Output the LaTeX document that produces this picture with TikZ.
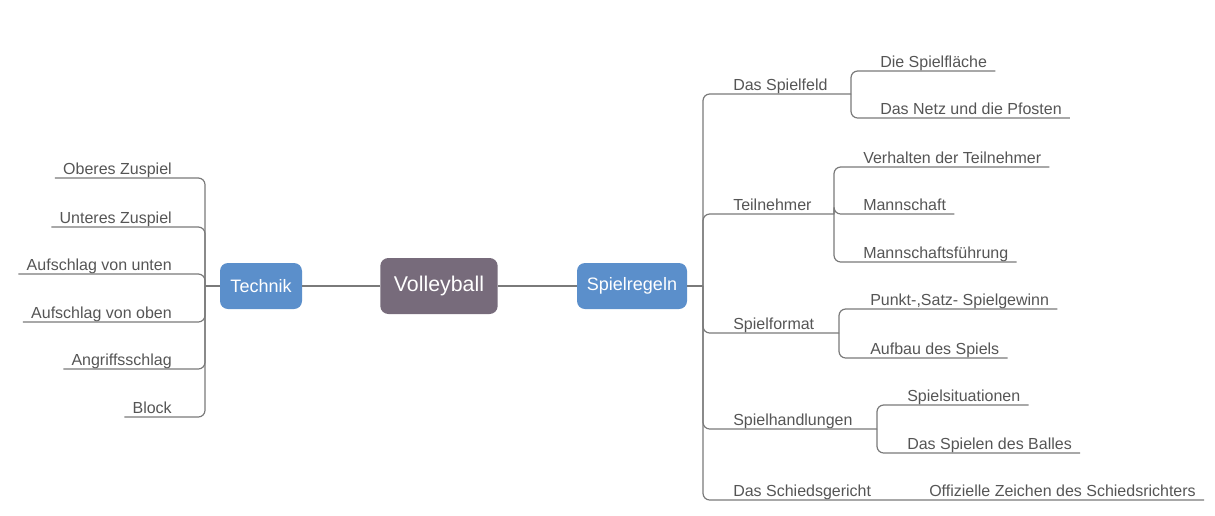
\documentclass[tikz,border=0pt]{standalone}
\usepackage{fontspec}
\setmainfont{Liberation Sans}
\definecolor{topic}{HTML}{776B7B}
\definecolor{branch}{HTML}{5B8FCB}
\definecolor{linegrey}{HTML}{7A7A7A}
\definecolor{textgrey}{HTML}{555555}
\tikzset{
    every node/.style={align=center,},
    central/.style={rectangle,rounded corners=6pt,fill=topic,text=white,font=\fontsize{16}{19}\selectfont,minimum width=88pt,minimum height=42pt,},
    maintopic/.style={rectangle,rounded corners=6pt,fill=branch,text=white,font=\fontsize{13.5}{16}\selectfont,minimum height=34.5pt,},
    subtopic/.style={inner xsep=6pt,inner ysep=2.5pt,text depth=0pt,text=textgrey,font=\fontsize{12}{14}\selectfont,},
    link/.style={draw=linegrey,line width=0.9pt,rounded corners=5pt,},
}

\begin{document}
\begin{tikzpicture}[x=0.75pt,y=-0.75pt]
                \useasboundingbox (0,0) rectangle (1215,515);

                \node[central] (volley) at (439,286) {Volleyball};
                \node[maintopic,minimum width=61.5pt] (technik) at (261,286) {Technik};
                \node[maintopic,minimum width=82.5pt] (regeln) at (632,286) {Spielregeln};

                \coordinate (tFork) at (205,286);
                \coordinate (rFork) at (703,286);

                \node[subtopic,anchor=south east] (oberes) at (180,178) {Oberes Zuspiel};
                \node[subtopic,anchor=south east] (unteres) at (180,227) {Unteres Zuspiel};
                \node[subtopic,anchor=south east] (aufUnten) at (180,274) {Aufschlag von unten};
                \node[subtopic,anchor=south east] (aufOben) at (180,322) {Aufschlag von oben};
                \node[subtopic,anchor=south east] (angriff) at (180,369) {Angriffsschlag};
                \node[subtopic,anchor=south east] (block) at (180,417) {Block};

                \node[subtopic,anchor=south west] (feld) at (725,94) {Das Spielfeld};
                \coordinate (feldFork) at (851,94);
                \node[subtopic,anchor=south west] (flaeche) at (872,71) {Die Spielfläche};
                \node[subtopic,anchor=south west] (netz) at (872,118) {Das Netz und die Pfosten};

                \node[subtopic,anchor=south west] (teil) at (725,214) {Teilnehmer};
                \coordinate (teilFork) at (834,214);
                \node[subtopic,anchor=south west] (verhalten) at (855,167) {Verhalten der Teilnehmer};
                \node[subtopic,anchor=south west] (mannschaft) at (855,214) {Mannschaft};
                \node[subtopic,anchor=south west] (fuehrung) at (855,262) {Mannschaftsführung};

                \node[subtopic,anchor=south west] (format) at (725,333) {Spielformat};
                \coordinate (formatFork) at (839,333);
                \node[subtopic,anchor=south west] (gewinn) at (862,309) {Punkt-,Satz- Spielgewinn};
                \node[subtopic,anchor=south west] (aufbau) at (862,358) {Aufbau des Spiels};

                \node[subtopic,anchor=south west] (handlung) at (725,429) {Spielhandlungen};
                \coordinate (handlungFork) at (877,429);
                \node[subtopic,anchor=south west] (situation) at (899,405) {Spielsituationen};
                \node[subtopic,anchor=south west] (balles) at (899,453) {Das Spielen des Balles};

                \node[subtopic,anchor=south west] (gericht) at (725,500) {Das Schiedsgericht};
                \node[subtopic,anchor=south west] (zeichen) at (921,500) {Offizielle Zeichen des Schiedsrichters};

                \draw[link] (volley) -- (technik);
                \draw[link] (volley) -- (regeln);
                \draw[link] (technik) -- (tFork);
                \draw[link] (regeln) -- (rFork);

                \foreach \n in {oberes,unteres,aufUnten,aufOben,angriff,block}
                    \draw[link] (tFork) |- (\n.south west);

                \foreach \f in {feldFork,teilFork,formatFork,handlungFork}
                    \draw[link] (rFork) |- (\f);
                \draw[link] (rFork) |- (zeichen.south east);

                \foreach \n in {flaeche,netz}
                    \draw[link] (feldFork) |- (\n.south east);
                \foreach \n in {verhalten,mannschaft,fuehrung}
                    \draw[link] (teilFork) |- (\n.south east);
                \foreach \n in {gewinn,aufbau}
                    \draw[link] (formatFork) |- (\n.south east);
                \foreach \n in {situation,balles}
                    \draw[link] (handlungFork) |- (\n.south east);
            \end{tikzpicture}
\end{document}
